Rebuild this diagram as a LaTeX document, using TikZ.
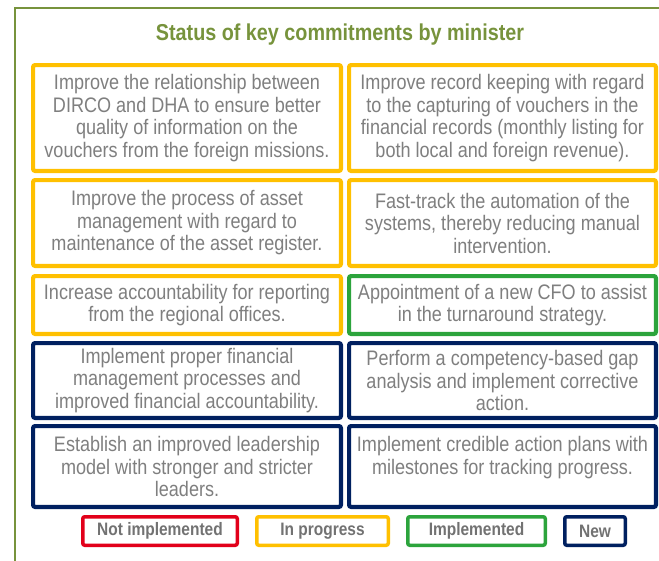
\documentclass[tikz,border=0pt]{standalone}
\usepackage{fontspec}
\setmainfont[FakeStretch=0.86]{Liberation Sans}
\usepackage{tikz}
\usetikzlibrary{positioning}

\definecolor{frameolive}{RGB}{119,147,60}
\definecolor{progyellow}{RGB}{255,192,0}
\definecolor{doneGreen}{RGB}{44,164,60}
\definecolor{newnavy}{RGB}{0,32,96}
\definecolor{notred}{RGB}{226,0,26}
\definecolor{txtgrey}{RGB}{127,127,127}

\begin{document}
\begin{tikzpicture}[x=1pt, y=-1pt,
  cbox/.style={rectangle, fill=white, line width=4.2pt, rounded corners=2pt,
    align=center, text=txtgrey, inner sep=2pt,
    font=\fontsize{21}{22.5}\selectfont},
  leftcol/.style={cbox, minimum width=307.8pt},
  rightcol/.style={cbox, minimum width=306.8pt},
  progbox/.style={draw=progyellow},
  donebox/.style={draw=doneGreen},
  newbox/.style={draw=newnavy},
  legbox/.style={rectangle, fill=white, line width=3.5pt, rounded corners=2pt,
    minimum height=28.5pt, inner sep=1pt, text=txtgrey!90!black,
    font=\fontsize{18}{20}\selectfont\bfseries},
  title/.style={text=frameolive, font=\fontsize{23}{24}\selectfont\bfseries},
]
\useasboundingbox (0,0) rectangle (659,560);

%% -- outer frame (runs past the right and bottom edges) --
\begin{scope}
  \clip (0,0) rectangle (659,560);
  \draw[frameolive, line width=2.5pt] (15,8) rectangle (720,620);
\end{scope}

%% -- title --
\node[title] (head) at (340,35) {Status of key commitments by minister};

%% -- row 1 --
\node[leftcol, progbox, minimum height=105.8pt] (dirco) at (187,118)
  {Improve the relationship between\\DIRCO and DHA to ensure better\\quality of information on the\\vouchers from the foreign missions.};
\node[rightcol, progbox, minimum height=105.8pt] (records) at (502.5,118)
  {Improve record keeping with regard\\to the capturing of vouchers in the\\financial records (monthly listing for\\both local and foreign revenue).};
%% -- row 2 --
\node[leftcol, progbox, minimum height=85.8pt] (asset) at (187,223)
  {Improve the process of asset\\management with regard to\\maintenance of the asset register.};
\node[rightcol, progbox, minimum height=85.8pt] (auto) at (502.5,223)
  {Fast-track the automation of the\\systems, thereby reducing manual\\intervention.};
%% -- row 3 --
\node[leftcol, progbox, minimum height=57.8pt] (regional) at (187,305)
  {Increase accountability for reporting\\from the regional offices.};
\node[rightcol, donebox, minimum height=57.8pt] (cfo) at (502.5,305)
  {Appointment of a new CFO to assist\\in the turnaround strategy.};
%% -- row 4 --
\node[leftcol, newbox, minimum height=74.8pt] (finmgmt) at (187,380.5)
  {Implement proper financial\\management processes and\\improved financial accountability.};
\node[rightcol, newbox, minimum height=74.8pt] (gap) at (502.5,380.5)
  {Perform a competency-based gap\\analysis and implement corrective\\action.};
%% -- row 5 --
\node[leftcol, newbox, minimum height=80.8pt] (leaders) at (187,466.5)
  {Establish an improved leadership\\model with stronger and stricter\\leaders.};
\node[rightcol, newbox, minimum height=80.8pt] (plans) at (502.5,466.5)
  {Implement credible action plans with\\milestones for tracking progress.\\\mbox{}};

%% -- legend --
\node[legbox, draw=notred, minimum width=154.5pt] (lgnot) at (160,531) {Not implemented};
\node[legbox, draw=progyellow, minimum width=131.5pt] (lgprog) at (322.5,531) {In progress};
\node[legbox, draw=doneGreen, minimum width=137.5pt] (lgdone) at (476.5,531) {Implemented};
\node[legbox, draw=newnavy, minimum width=60.5pt] (lgnew) at (595,531) {New};
\end{tikzpicture}
\end{document}
